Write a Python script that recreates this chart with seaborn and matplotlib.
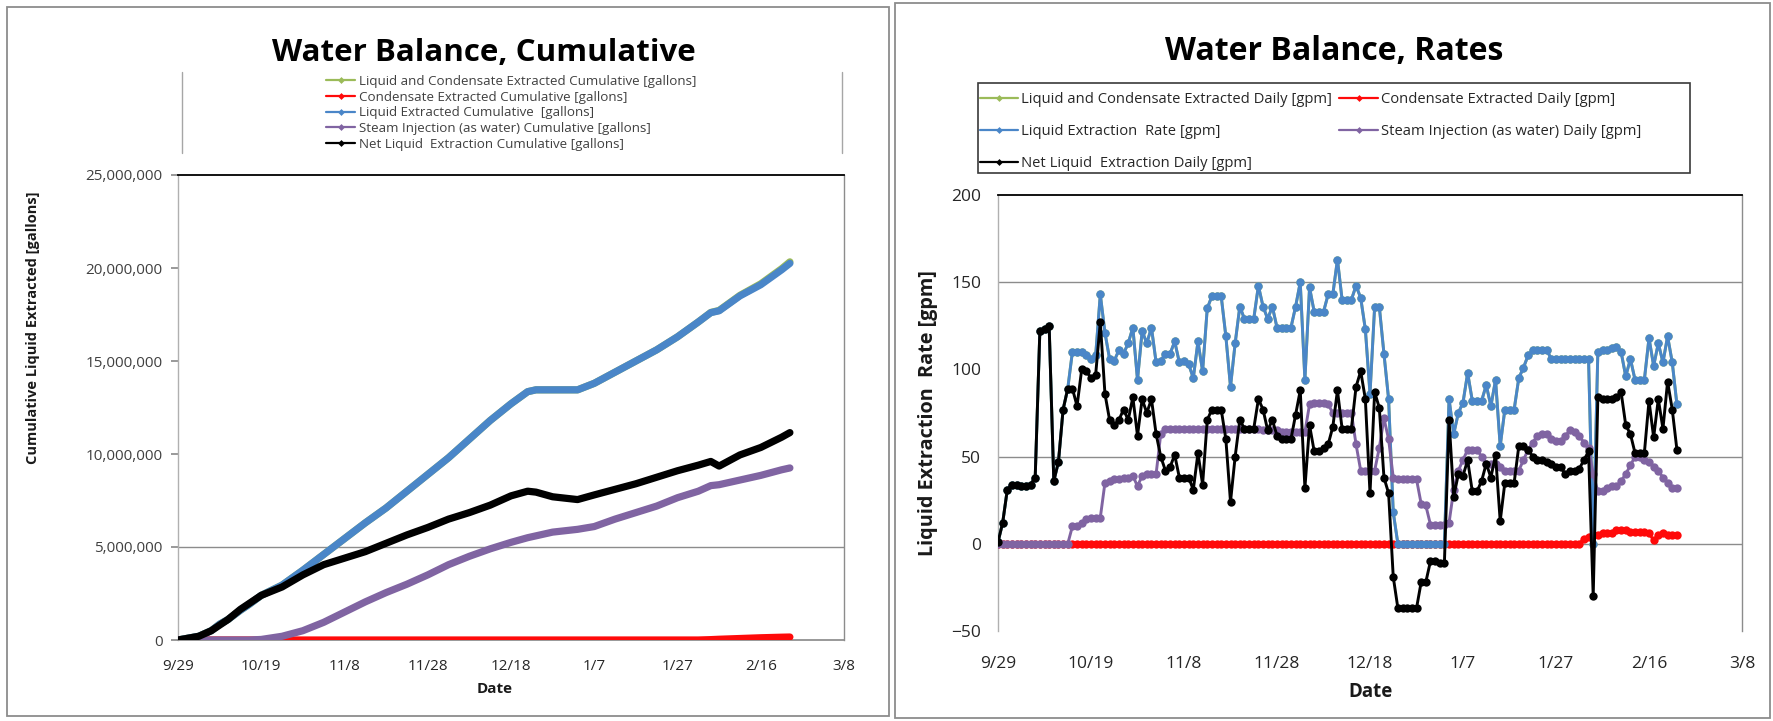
import numpy as np
import pandas as pd
import matplotlib
matplotlib.use("Agg")
import matplotlib.pyplot as plt
import matplotlib.dates as mdates
from matplotlib.lines import Line2D
from matplotlib.patches import Rectangle
from matplotlib.ticker import FuncFormatter
import seaborn as sns

sns.set_theme(style="white")
plt.rcParams["font.family"] = ["Open Sans", "DejaVu Sans"]

START = pd.Timestamp("2010-09-29")
tick_dates = pd.date_range(START, periods=9, freq="20D")

# ---------------- cumulative volumes (million gallons) ----------------
cum_days = [0, 5, 8, 10, 12, 15, 17, 20, 25, 30, 35, 40, 45, 50, 55, 60, 65, 70,
            75, 80, 84, 86, 90, 96, 100, 105, 110, 115, 120, 125, 128, 130, 135,
            140, 145, 147]
liquid_cum = [0, 0.2, 0.5, 0.85, 1.1, 1.6, 1.9, 2.4, 2.95, 3.75, 4.6, 5.45, 6.3,
              7.1, 8.0, 8.9, 9.8, 10.8, 11.8, 12.7, 13.35, 13.45, 13.45, 13.45,
              13.8, 14.4, 15.0, 15.6, 16.3, 17.1, 17.6, 17.7, 18.5, 19.1, 19.9,
              20.25]
cond_cum = [0] * 30 + [0.02, 0.04, 0.08, 0.12, 0.15, 0.16]
total_cum = [0, 0.2, 0.5, 0.85, 1.1, 1.6, 1.9, 2.4, 2.95, 3.75, 4.6, 5.45, 6.3,
             7.1, 8.0, 8.9, 9.8, 10.8, 11.8, 12.7, 13.35, 13.45, 13.45, 13.45,
             13.8, 14.4, 15.0, 15.6, 16.3, 17.1, 17.61, 17.72, 18.53, 19.15,
             19.96, 20.33]
steam_cum = [0, 0, 0, 0, 0, 0, 0, 0.03, 0.2, 0.5, 0.95, 1.5, 2.05, 2.55, 3.0,
             3.5, 4.05, 4.5, 4.9, 5.25, 5.5, 5.6, 5.8, 5.95, 6.1, 6.5, 6.85, 7.2,
             7.65, 8.0, 8.3, 8.35, 8.6, 8.85, 9.15, 9.25]
net_cum = [0, 0.2, 0.5, 0.8, 1.1, 1.65, 1.95, 2.4, 2.85, 3.5, 4.05, 4.4, 4.75,
           5.2, 5.65, 6.05, 6.5, 6.85, 7.25, 7.75, 8.0, 7.95, 7.7, 7.55, 7.8,
           8.1, 8.4, 8.75, 9.1, 9.4, 9.6, 9.35, 9.95, 10.35, 10.9, 11.15]

# ---------------- daily rates (gpm), one value per day from 9/29 ----------------
total_rate = [
    1, 12, 31, 34, 34, 33, 33, 34, 38, 122,
    123, 125, 36, 47, 77, 89, 110, 110, 110, 108,
    106, 108, 143, 121, 106, 105, 111, 109, 115, 124,
    94, 122, 115, 124, 104, 105, 109, 109, 116, 104,
    105, 103, 95, 116, 99, 135, 142, 142, 142, 119,
    90, 115, 136, 129, 129, 129, 148, 136, 129, 136,
    124, 124, 124, 124, 136, 150, 94, 147, 133, 133,
    133, 143, 143, 163, 140, 140, 140, 148, 141, 123,
    86, 136, 136, 109, 83, 18, 0, 0, 0, 0,
    0, 0, 0, 0, 0, 0, 0, 83, 63, 75,
    81, 98, 82, 82, 82, 91, 79, 94, 56, 77,
    77, 77, 95, 101, 108, 111, 111, 111, 111, 106,
    106, 106, 106, 106, 106, 106, 106, 106, 0, 110,
    111, 111, 112, 113, 110, 96, 106, 94, 94, 94,
    118, 102, 115, 104, 119, 104, 80]
cond_rate = [0] * 126 + [3, 4, 5, 5, 6, 6, 6, 8, 8, 8, 7, 7, 7, 7,
                         6, 2, 5, 6, 5, 5, 5]
liquid_rate = [
    1, 12, 31, 34, 34, 33, 33, 34, 38, 122,
    123, 125, 36, 47, 77, 89, 110, 110, 110, 108,
    106, 108, 143, 121, 106, 105, 111, 109, 115, 124,
    94, 122, 115, 124, 104, 105, 109, 109, 116, 104,
    105, 103, 95, 116, 99, 135, 142, 142, 142, 119,
    90, 115, 136, 129, 129, 129, 148, 136, 129, 136,
    124, 124, 124, 124, 136, 150, 94, 147, 133, 133,
    133, 143, 143, 163, 140, 140, 140, 148, 141, 123,
    86, 136, 136, 109, 83, 18, 0, 0, 0, 0,
    0, 0, 0, 0, 0, 0, 0, 83, 63, 75,
    81, 98, 82, 82, 82, 91, 79, 94, 56, 77,
    77, 77, 95, 101, 108, 111, 111, 111, 111, 106,
    106, 106, 106, 106, 106, 106, 106, 106, 0, 110,
    111, 111, 112, 113, 110, 96, 106, 94, 94, 94,
    118, 102, 115, 104, 119, 104, 80]
steam_rate = [
    0, 0, 0, 0, 0, 0, 0, 0, 0, 0,
    0, 0, 0, 0, 0, 0, 10, 10, 12, 14,
    15, 15, 15, 35, 36, 37, 37, 38, 38, 39,
    33, 39, 40, 40, 40, 63, 66, 66, 66, 66,
    66, 66, 66, 66, 66, 66, 66, 66, 66, 66,
    66, 66, 66, 66, 66, 66, 66, 65, 65, 65,
    65, 64, 64, 64, 64, 64, 64, 80, 81, 81,
    81, 80, 75, 75, 75, 75, 75, 57, 42, 42,
    42, 42, 55, 72, 60, 38, 37, 37, 37, 37,
    37, 23, 22, 11, 11, 11, 11, 12, 31, 42,
    48, 54, 54, 54, 50, 46, 46, 46, 44, 42,
    42, 42, 42, 48, 54, 58, 62, 63, 63, 60,
    59, 59, 62, 65, 64, 62, 58, 55, 40, 30,
    30, 32, 33, 33, 36, 40, 45, 50, 50, 48,
    47, 44, 42, 38, 35, 32, 32]
net_rate = [
    1, 12, 31, 34, 34, 33, 33, 34, 38, 122,
    123, 125, 36, 47, 77, 89, 89, 79, 100, 99,
    95, 97, 127, 86, 71, 68, 71, 77, 71, 84,
    62, 83, 75, 83, 63, 50, 42, 44, 51, 38,
    38, 38, 31, 52, 34, 71, 77, 77, 77, 60,
    24, 50, 71, 66, 66, 66, 83, 77, 65, 71,
    62, 60, 60, 60, 74, 88, 32, 68, 53, 53,
    55, 57, 67, 88, 66, 66, 66, 90, 99, 83,
    29, 87, 78, 38, 29, -19, -37, -37, -37, -37,
    -37, -22, -22, -10, -10, -11, -11, 71, 27, 40,
    39, 48, 30, 30, 36, 46, 38, 51, 13, 35,
    35, 35, 56, 56, 54, 50, 48, 48, 47, 46,
    44, 44, 40, 42, 42, 43, 48, 53, -30, 84,
    83, 83, 83, 84, 87, 68, 63, 52, 52, 52,
    82, 61, 83, 66, 93, 77, 54]

colors = ["#9BBB59", "#FF0A0A", "#4A86C8", "#8064A2", "#000000"]
cum_labels = ["Liquid and Condensate Extracted Cumulative [gallons]",
              "Condensate Extracted Cumulative [gallons]",
              "Liquid Extracted Cumulative  [gallons]",
              "Steam Injection (as water) Cumulative [gallons]",
              "Net Liquid  Extraction Cumulative [gallons]"]
rate_labels = ["Liquid and Condensate Extracted Daily [gpm]",
               "Condensate Extracted Daily [gpm]",
               "Liquid Extraction  Rate [gpm]",
               "Steam Injection (as water) Daily [gpm]",
               "Net Liquid  Extraction Daily [gpm]"]

W, H = 1773, 721
fig = plt.figure(figsize=(W / 100, H / 100), dpi=100)
fig.patch.set_facecolor("white")


def fx(px):
    return px / W


def fy(py):
    return 1 - py / H


# chart-area frames
for (x0, y0, x1, y1) in [(7, 7, 889, 716), (895, 3, 1770, 718)]:
    fig.add_artist(Rectangle((fx(x0), fy(y1)), fx(x1 - x0), (y1 - y0) / H,
                             transform=fig.transFigure, fill=False,
                             edgecolor="#8c8c8c", lw=1.3))

ax1 = fig.add_axes([fx(178), fy(640), fx(666), 465 / H])
ax2 = fig.add_axes([fx(998), fy(631), fx(744), 436 / H])

# ---------------- cumulative chart ----------------
cum_dates = START + pd.to_timedelta(cum_days, unit="D")
cum_series = [total_cum, cond_cum, liquid_cum, steam_cum, net_cum]
for z, (vals, c) in enumerate(zip(cum_series, colors)):
    sns.lineplot(x=cum_dates, y=np.array(vals) * 1e6, ax=ax1, color=c,
                 linewidth=5.2, legend=False, estimator=None, sort=False,
                 zorder=3 + z)

ax1.set_xlim(tick_dates[0], tick_dates[-1])
ax1.set_ylim(0, 25e6)
ax1.set_yticks(np.arange(0, 25e6 + 1, 5e6))
ax1.yaxis.set_major_formatter(FuncFormatter(lambda v, p: f"{v:,.0f}"))
ax1.axhline(5e6, color="#8c8c8c", lw=1.0, zorder=1)

# ---------------- rates chart ----------------
rate_dates = pd.date_range(START, periods=len(net_rate), freq="D")
rate_series = [total_rate, cond_rate, liquid_rate, steam_rate, net_rate]
for z, (vals, c) in enumerate(zip(rate_series, colors)):
    sns.lineplot(x=rate_dates, y=vals, ax=ax2, color=c, linewidth=2.1,
                 marker="o", markersize=6, markeredgewidth=0, legend=False,
                 estimator=None, sort=False, zorder=3 + z)

ax2.set_xlim(tick_dates[0], tick_dates[-1])
ax2.set_ylim(-50, 200)
ax2.set_yticks([-50, 0, 50, 100, 150, 200])
for yv in (0, 50, 150):
    ax2.axhline(yv, color="#8c8c8c", lw=1.0, zorder=1)

# ---------------- axes styling ----------------
for ax in (ax1, ax2):
    ax.grid(False)
    ax.set_xticks(tick_dates)
    ax.xaxis.set_major_formatter(mdates.DateFormatter("%-m/%-d"))
    ax.spines["top"].set_color("black")
    ax.spines["top"].set_linewidth(1.3)
    ax.spines["right"].set_color("#8c8c8c")
    ax.spines["left"].set_color("#b0b0b0")
    ax.spines["right"].set_linewidth(1.0)
    ax.spines["left"].set_linewidth(1.0)

ax1.spines["bottom"].set_color("#8c8c8c")
ax2.spines["bottom"].set_visible(False)

ax1.tick_params(axis="y", left=True, length=5, color="#8c8c8c", pad=6,
                labelsize=11, labelcolor="#404040")
ax1.tick_params(axis="x", length=0, pad=14, labelsize=11, labelcolor="#262626")
ax2.tick_params(axis="y", left=False, length=0, pad=12, labelsize=12.5,
                labelcolor="#262626")
ax2.tick_params(axis="x", length=0, pad=18, labelsize=12.5, labelcolor="#262626")

ax1.set_ylabel("Cumulative Liquid Extracted [gallons]", fontsize=10.5,
               fontweight="bold", color="#1a1a1a")
ax1.yaxis.set_label_coords(-0.207, 0.672)
ax1.set_xlabel("Date", fontsize=11, fontweight="bold", color="#1a1a1a")
ax1.xaxis.set_label_coords(0.476, -0.09)

ax2.set_ylabel("Liquid Extraction  Rate [gpm]", fontsize=14.3,
               fontweight="bold", color="#1a1a1a")
ax2.yaxis.set_label_coords(-0.0806, 0.5)
ax2.set_xlabel("Date", fontsize=13.5, fontweight="bold", color="#1a1a1a")
ax2.xaxis.set_label_coords(0.5, -0.117)

# ---------------- titles ----------------
fig.text(fx(484), fy(53), "Water Balance, Cumulative", ha="center", va="center",
         fontsize=22.5, fontweight="bold", color="black")
fig.text(fx(1334), fy(52), "Water Balance, Rates", ha="center", va="center",
         fontsize=23, fontweight="bold", color="black")

# ---------------- legends ----------------
def handle(c):
    return Line2D([], [], color=c, lw=1.6, marker="D", markersize=3.5,
                  markeredgewidth=0)


cum_handles = [handle(c) for c in colors]
leg1 = fig.legend(cum_handles, cum_labels, loc="upper left",
                  bbox_to_anchor=(fx(326), fy(75)), frameon=False,
                  fontsize=9.6, handlelength=2.2, handletextpad=0.3,
                  labelspacing=0.2, borderpad=0, borderaxespad=0)
for t in leg1.get_texts():
    t.set_color("#404040")

for xv in (182, 842):
    fig.add_artist(Line2D([fx(xv), fx(xv)], [fy(72), fy(153)],
                          transform=fig.transFigure, color="#a6a6a6", lw=1.0))

rate_handles = [handle(c) for c in colors]
order = [0, 2, 4, 1, 3]
leg2 = fig.legend([rate_handles[i] for i in order],
                  [rate_labels[i] for i in order], ncol=2, loc="upper left",
                  bbox_to_anchor=(fx(980), fy(92)), frameon=False,
                  fontsize=10.6, handlelength=2.6, handletextpad=0.2,
                  columnspacing=0.5, labelspacing=1.15, borderpad=0,
                  borderaxespad=0)
for t in leg2.get_texts():
    t.set_color("#262626")
fig.add_artist(Rectangle((fx(978), fy(173)), fx(1690 - 978), (173 - 83) / H,
                         transform=fig.transFigure, fill=False,
                         edgecolor="#3a3a3a", lw=1.2))

fig.savefig("out.png", dpi=100, facecolor="white")
